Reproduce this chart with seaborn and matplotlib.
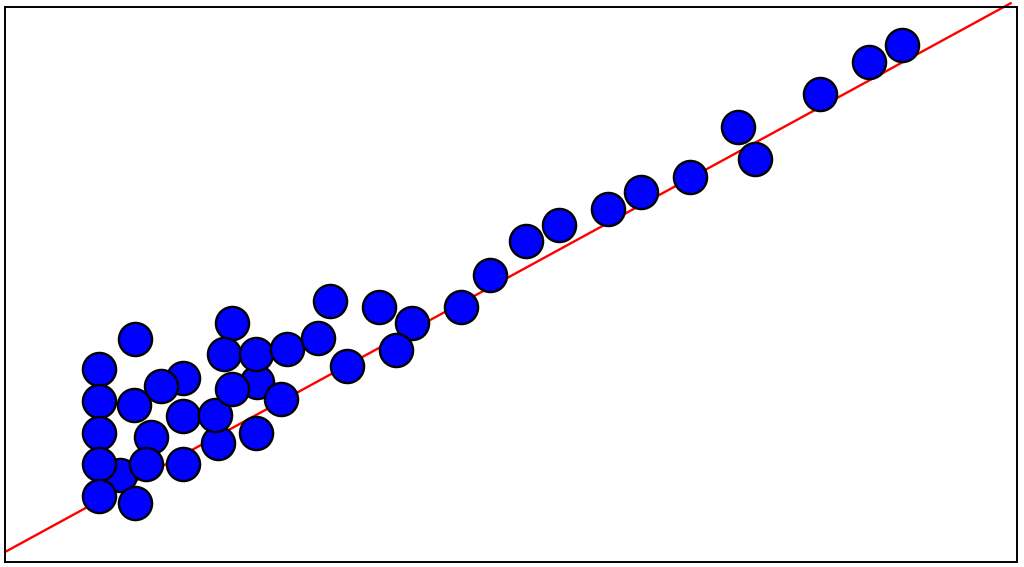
import matplotlib
matplotlib.use("Agg")
import matplotlib.pyplot as plt
import numpy as np
import pandas as pd
import seaborn as sns

# point values (drawing order kept: later points sit on top)
x_vals = [1.14, 1.44, 1.76, 2.10, 2.49,
          0.93, 1.28, 0.93, 1.27, 1.54, 0.93, 1.76, 2.08, 2.24, 2.16,
          2.48, 2.24, 2.79, 3.09, 3.21, 3.38, 3.70, 4.02, 3.86, 4.51,
          2.73, 2.48, 1.76, 1.39, 0.93, 0.93, 1.28,
          4.79, 5.15, 5.47, 5.96, 6.28, 6.77, 7.24, 7.41, 8.05, 8.54, 8.86]
y_vals = [1.57, 2.25, 3.32, 2.14, 3.24,
          3.48, 4.02, 2.90, 2.83, 3.17, 2.32, 2.63, 2.65, 4.31, 3.75,
          3.75, 3.12, 3.84, 4.04, 4.70, 3.53, 4.59, 4.31, 3.82, 4.59,
          2.94, 2.32, 1.77, 1.77, 1.77, 1.19, 1.06,
          5.17, 5.78, 6.07, 6.36, 6.67, 6.94, 7.84, 7.26, 8.43, 9.01, 9.32]

# fitted line
fit_intercept = 0.18
fit_slope = 0.995
line_x = [0.0, 9.94]

points = pd.DataFrame({"x": x_vals, "y": y_vals})
line = pd.DataFrame({"x": line_x})
line["y"] = fit_intercept + fit_slope * line["x"]

sns.set_style("white")
fig = plt.figure(figsize=(10.24, 5.67), dpi=100)
ax = fig.add_axes([5 / 1024, 5 / 567, 1012 / 1024, 555 / 567])

sns.lineplot(data=line, x="x", y="y", ax=ax, color="red", linewidth=1.7,
             zorder=1, clip_on=False)
sns.scatterplot(data=points, x="x", y="y", ax=ax, color="blue",
                edgecolor="black", linewidth=1.7, s=570, zorder=2, clip_on=False)

ax.set_xlim(0, 10)
ax.set_ylim(0, 10)
ax.set_xticks([])
ax.set_yticks([])
ax.set_xlabel("")
ax.set_ylabel("")
for spine in ax.spines.values():
    spine.set_color("black")
    spine.set_linewidth(1.4)

fig.savefig("out.png", dpi=100)
